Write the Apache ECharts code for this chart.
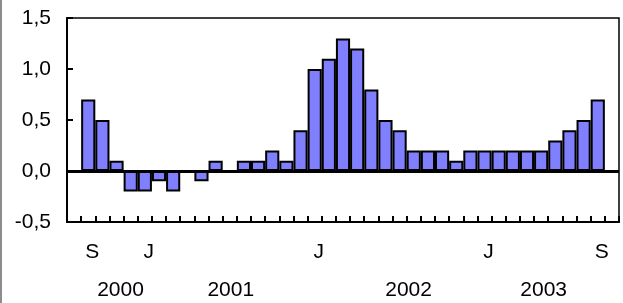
<!DOCTYPE html>
<html>
<head>
    <meta charset="UTF-8">
    <title>Monthly values 2000-2003</title>
    <script src="https://cdn.jsdelivr.net/npm/echarts@6/dist/echarts.min.js"></script>
    <style>
        * { margin: 0; padding: 0; box-sizing: border-box; }
        body { background: #fff; width: 623px; height: 303px; position: relative; overflow: hidden; }
        #chart { width: 623px; height: 303px; }
        .edge { position: absolute; left: 0; top: 0; width: 2px; height: 303px; background: #8c8c8c; }
    </style>
</head>
<body>
    <div id="chart"></div>
    <div class="edge"></div>

    <script>
        // one slot per month, Aug 2000 .. Oct 2003 (first and last are empty)
        const months = [
            '2000-08', '2000-09', '2000-10', '2000-11', '2000-12',
            '2001-01', '2001-02', '2001-03', '2001-04', '2001-05', '2001-06',
            '2001-07', '2001-08', '2001-09', '2001-10', '2001-11', '2001-12',
            '2002-01', '2002-02', '2002-03', '2002-04', '2002-05', '2002-06',
            '2002-07', '2002-08', '2002-09', '2002-10', '2002-11', '2002-12',
            '2003-01', '2003-02', '2003-03', '2003-04', '2003-05', '2003-06',
            '2003-07', '2003-08', '2003-09', '2003-10'
        ];
        const values = [
            '-',
            0.7, 0.5, 0.1, -0.2,
            -0.2, -0.1, -0.2, 0, -0.1, 0.1, 0, 0.1, 0.1, 0.2, 0.1, 0.4,
            1.0, 1.1, 1.3, 1.2, 0.8, 0.5, 0.4, 0.2, 0.2, 0.2, 0.1, 0.2,
            0.2, 0.2, 0.2, 0.2, 0.2, 0.3, 0.4, 0.5, 0.7,
            '-'
        ];
        const monthLabels = { '2000-09': 'S', '2001-01': 'J', '2002-01': 'J', '2003-01': 'J', '2003-09': 'S' };
        const yearLabels = { '2000-11': '2000', '2001-07': '2001', '2002-07': '2002', '2003-05': '2003' };
        const yTicks = [-0.5, 0, 0.5, 1, 1.5];

        const font = "'Liberation Sans', Arial, sans-serif";
        const fs = 21;
        const chart = echarts.init(document.getElementById('chart'));

        const option = {
            animation: false,
            grid: {
                left: 67, right: 4, top: 18, bottom: 81,
                show: true, borderColor: '#000', borderWidth: 1.5
            },
            xAxis: [
                {
                    type: 'category',
                    data: months,
                    position: 'bottom',
                    axisLine: { onZero: false, lineStyle: { color: '#000', width: 2 } },
                    axisTick: { show: true, inside: true, length: 6, interval: 0, lineStyle: { color: '#000', width: 2 } },
                    axisLabel: {
                        interval: 0, margin: 20, color: '#000', fontFamily: font, fontSize: fs,
                        padding: [0, 0, 0, 8],
                        formatter: function (v) { return monthLabels[v] || ''; }
                    }
                },
                {
                    type: 'category',
                    data: months,
                    position: 'bottom',
                    axisLine: { show: false, onZero: false },
                    axisTick: { show: false },
                    axisLabel: {
                        interval: 0, margin: 58, color: '#000', fontFamily: font, fontSize: fs,
                        formatter: function (v) {
                            const y = yearLabels[v];
                            if (!y) return '';
                            const style = { '2000': 'a', '2001': 'b', '2002': 'c', '2003': 'd' }[y];
                            return '{' + style + '|' + y + '}';
                        },
                        rich: {
                            a: { fontFamily: font, fontSize: fs, color: '#000', padding: [0, 0, 0, 8] },
                            b: { fontFamily: font, fontSize: fs, color: '#000', padding: [0, 0, 0, 2] },
                            c: { fontFamily: font, fontSize: fs, color: '#000', padding: [0, 0, 0, 18] },
                            d: { fontFamily: font, fontSize: fs, color: '#000', padding: [0, 0, 0, 5] }
                        }
                    }
                }
            ],
            yAxis: {
                type: 'value',
                min: yTicks[0],
                max: yTicks[yTicks.length - 1],
                interval: 0.5,
                axisLine: { show: true, lineStyle: { color: '#000', width: 2 } },
                axisTick: { show: true, inside: true, length: 6, lineStyle: { color: '#000', width: 2 } },
                splitLine: { show: false },
                axisLabel: {
                    margin: 16, color: '#000', fontFamily: font, fontSize: fs,
                    formatter: function (v) { return v.toFixed(1).replace('.', ','); }
                }
            },
            series: [{
                type: 'bar',
                data: values,
                barCategoryGap: '0%',
                itemStyle: { color: '#8080ff', borderColor: '#000', borderWidth: 2 },
                markLine: {
                    silent: true,
                    symbol: 'none',
                    label: { show: false },
                    lineStyle: { color: '#000', width: 3, type: 'solid' },
                    data: [{ yAxis: 0 }]
                }
            }]
        };

        chart.setOption(option);
    </script>
</body>
</html>
